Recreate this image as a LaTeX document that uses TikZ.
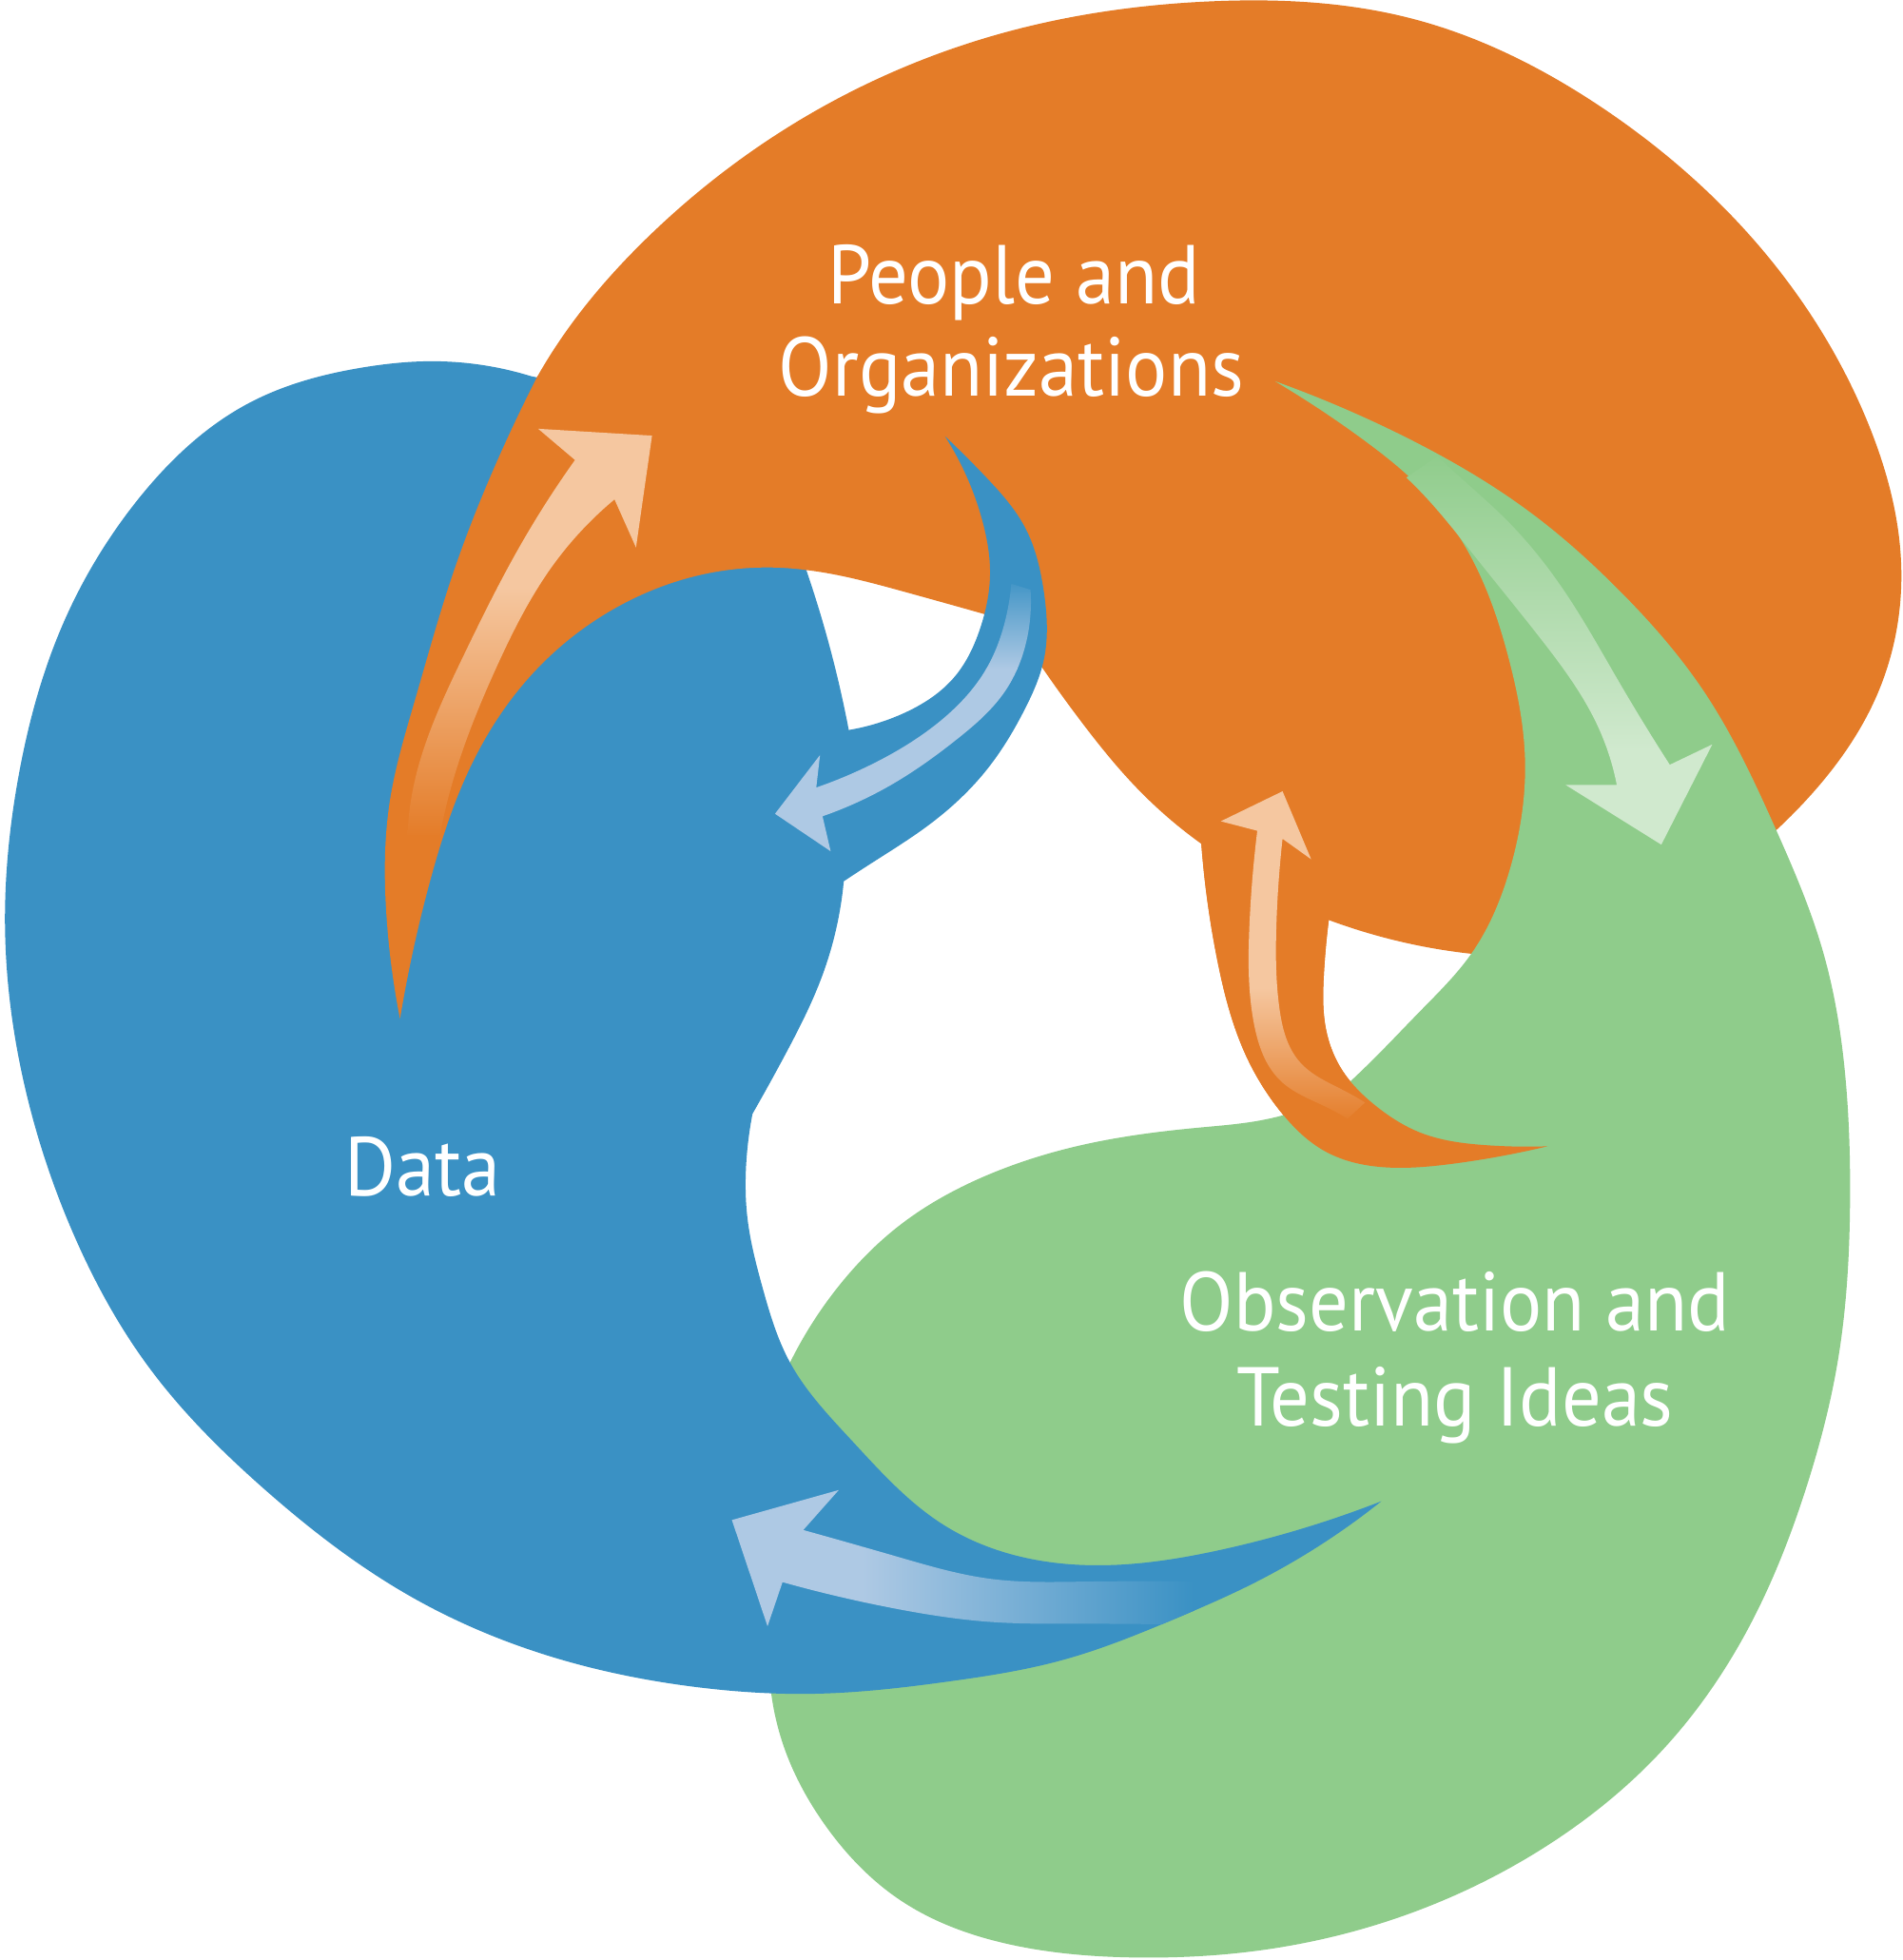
\documentclass[tikz,border=0pt]{standalone}
\usepackage{fontspec}
\setmainfont{PT Sans}[FakeStretch=0.94]
\usetikzlibrary{hobby}
\definecolor{corange}{RGB}{228,124,40}
\definecolor{cblue}{RGB}{58,145,196}
\definecolor{cgreen}{RGB}{143,204,139}
\definecolor{lorange}{RGB}{245,199,160}
\definecolor{lblue}{RGB}{174,201,228}
\definecolor{lgreen}{RGB}{208,233,206}
\tikzset{
  lbl/.style={text=white, inner sep=0pt, anchor=base, font=\fontsize{19}{19}\selectfont},
}
\def\bluepath{(756,349) .. (790,383) .. (820,422) .. (835,473) .. (835,528) .. (820,567) .. (790,615) .. (743,660) .. (698,690) .. (675,705)
  -- (675,705) .. (658,780) .. (628,844) .. (602,891)
  -- (602,891) .. (597,930) .. (598,975) .. (610,1030) .. (632,1090) .. (681,1152) .. (755,1220) .. (866,1252) .. (976,1240) .. (1105,1201)
  -- (1105,1201) .. (1050,1240) .. (1000,1268) .. (940,1295) .. (850,1328) .. (760,1345) .. (650,1355) .. (560,1350) .. (450,1328) .. (330,1278) .. (210,1190) .. (120,1095) .. (60,990) .. (20,870) .. (4,740) .. (15,620) .. (50,500) .. (110,400) .. (200,322) .. (290,294) .. (343,289) .. (425,301)
  -- (445,305) -- (520,380) -- (600,440) -- (645,456) .. (662,511) .. (679,584)
  -- (679,584) .. (722,571) .. (764,541) .. (784,503) .. (792,460) .. (786,417) .. (756,349) -- cycle}
\begin{document}
\begin{tikzpicture}[x=0.01cm,y=-0.01cm,use Hobby shortcut]
\useasboundingbox (0,0) rectangle (1522,1568);
% ---------- orange body ----------
\fill[corange] (320,815) .. (309,730) .. (312,640) .. (332,560) .. (362,460) .. (395,375) .. (430,301) .. (520,188) .. (650,90) .. (800,27) .. (970,1) .. (1130,15) .. (1280,85) .. (1410,200) .. (1495,340) .. (1521,455) .. (1502,555) .. (1445,640) .. (1420,665)
  -- (1300,720) -- (1177,763) .. (1111,751) .. (1063,736)
  -- (1063,736) .. (1059,781) .. (1060,819) .. (1073,855) .. (1101,885) .. (1136,906) .. (1187,916) .. (1238,917)
  -- (1238,917) .. (1162,931) .. (1111,934) .. (1060,921) .. (1025,890) .. (997,845) .. (974,769) .. (961,675)
  -- (961,675) .. (910,631) .. (867,580) .. (833,533)
  -- (812,510) -- (790,492) .. (722,473) .. (645,456) .. (560,460) .. (493,486) .. (425,540) .. (379,608) .. (344,705) .. (320,815) -- cycle;
% ---------- green body ----------
\fill[cgreen] (1020,305) .. (1125,350) .. (1227,412) .. (1295,472) .. (1363,553) .. (1420,662) .. (1458,760) .. (1477,870) .. (1480,960) .. (1470,1090) .. (1445,1190) .. (1400,1300) .. (1330,1400) .. (1240,1475) .. (1130,1530) .. (1010,1560) .. (910,1566) .. (810,1556) .. (720,1520) .. (660,1460) .. (628,1400) .. (617,1355)
  -- (600,1250) -- (612,1150) -- (632,1090) .. (670,1030) .. (720,980) .. (790,940) .. (870,915) .. (960,902) .. (1010,896) .. (1040,888)
  -- (1075,870) .. (1101,845) .. (1136,809) .. (1177,763) .. (1208,695) .. (1220,608) .. (1207,527) .. (1183,458) .. (1142,396) .. (1091,352) .. (1020,305) -- cycle;
% ---------- orange horn over green ----------
\fill[corange] (1063,736) .. (1059,781) .. (1060,819) .. (1073,855) .. (1101,885) .. (1136,906) .. (1187,916) .. (1238,917)
  -- (1238,917) .. (1162,931) .. (1111,934) .. (1060,921) .. (1025,890) .. (997,845) .. (974,769) .. (961,675)
  -- (1010,700) -- cycle;
% ---------- blue body ----------
\fill[cblue] \bluepath;
% ---------- orange horn over blue ----------
\fill[corange] (320,815) .. (309,730) .. (312,640) .. (332,560) .. (362,460) .. (395,375) .. (430,301)
  -- (480,250) -- (560,200) -- (700,300) -- (700,440) -- (645,456)
  .. (560,460) .. (493,486) .. (425,540) .. (379,608) .. (344,705) .. (320,815) -- cycle;
% ---------- arrows ----------
% orange arrow, left
\begin{scope}
\clip (521.6,348.5) -- (508.8,438) -- (491.6,399.5) .. (441.4,453.5) .. (398,532) .. (360,633) .. (352,668)
  -- (326,668) .. (330,633) .. (370.6,525) .. (417,435) .. (460,368) -- (430.5,343) -- cycle;
\fill[lorange] (300,330) rectangle (540,470);
\shade[top color=lorange, bottom color=corange] (300,470) rectangle (540,670);
\end{scope}
% blue arrow, centre
\begin{scope}
\clip (620,651) -- (656,604) -- (653,630) .. (702.6,608.8) .. (753.4,575.8) .. (789,535) .. (804,497) .. (809,467)
  -- (824.4,471.8) .. (821.8,509.8) .. (804,553) .. (766,591) .. (715.3,626.5) .. (658,653) -- (664.5,681) -- cycle;
\shade[top color=cblue, bottom color=lblue] (600,460) rectangle (840,535);
\fill[lblue] (600,535) rectangle (840,690);
\end{scope}
% blue arrow, bottom
\begin{scope}
\clip \bluepath;
\clip (585.5,1216) -- (671,1192) -- (642.6,1224) .. (718.4,1245.5) .. (792,1263) .. (865.8,1265.3) .. (960,1265)
  -- (960,1300) .. (865.8,1299) .. (792,1297.5) .. (718.4,1287.3) .. (626,1265.7) -- (614,1301) -- cycle;
\fill[lblue] (580,1185) rectangle (690,1310);
\shade[left color=lblue, right color=cblue] (690,1185) rectangle (955,1310);
\end{scope}
% orange arrow, bottom centre
\begin{scope}
\clip (1026,633) -- (1048.9,687.4) -- (1026,671) .. (1021,743) .. (1023.5,806.6) .. (1040,849.8) .. (1075.5,872.6) .. (1092,882)
  -- (1078,895) .. (1060.3,885.3) .. (1024.8,865) .. (1003.2,819.3) .. (999.4,743.2) .. (1005.8,664.6) -- (976.6,657) -- cycle;
\fill[lorange] (960,620) rectangle (1100,790);
\shade[top color=lorange, bottom color=corange] (960,790) rectangle (1100,900);
\end{scope}
% green arrow, right
\begin{scope}
\clip (1329,675.7) -- (1252.6,628) -- (1293.4,628) .. (1278,580.5) .. (1233.8,512.6) .. (1179.5,444.6) .. (1138.7,395.7) .. (1125,382)
  -- (1150,365) .. (1162.5,376.7) .. (1206.7,417.5) .. (1254.2,477) .. (1295,545.2) .. (1335.8,611.8) -- (1369.8,595.5) -- cycle;
\shade[top color=cgreen, bottom color=lgreen] (1110,360) rectangle (1380,600);
\fill[lgreen] (1110,600) rectangle (1380,690);
\end{scope}
% ---------- labels ----------
\node[lbl] (po1) at (811,243) {People and};
\node[lbl] (po2) at (809,317) {Organizations};
\node[lbl] (data) at (338,957) {Data};
\node[lbl] (ob1) at (1164,1065) {Observation and};
\node[lbl] (ob2) at (1164,1141) {Testing Ideas};
\end{tikzpicture}
\end{document}
